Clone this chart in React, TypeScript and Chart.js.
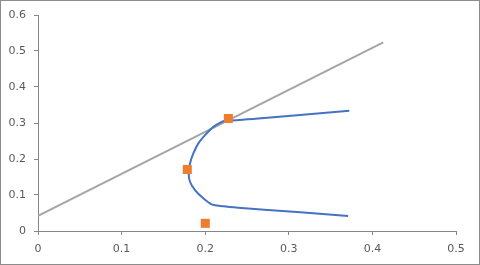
import React, { useEffect, useRef } from "react";
import { Chart, registerables } from "chart.js";

Chart.register(...registerables);

const frontierX = [0.3724, 0.31, 0.26, 0.2237, 0.2197, 0.2097, 0.1998, 0.1918, 0.1858, 0.1818, 0.1802, 0.1818, 0.1878, 0.1977, 0.2077, 0.2217, 0.2396, 0.31, 0.371];
const frontierY = [0.3337, 0.3215, 0.3115, 0.3055, 0.3032, 0.2893, 0.2663, 0.2433, 0.2155, 0.1878, 0.162, 0.1368, 0.1137, 0.0907, 0.074, 0.0685, 0.0646, 0.0525, 0.0416];
const lineX = [0, 0.413];
const lineY = [0.042, 0.524];
const assetX = [0.2277, 0.1786, 0.2001];
const assetY = [0.3126, 0.171, 0.0213];
const xTicks = [0, 0.1, 0.2, 0.3, 0.4, 0.5];
const yTicks = [0, 0.1, 0.2, 0.3, 0.4, 0.5, 0.6];

const toPts = (xs: number[], ys: number[]) => xs.map((x, i) => ({ x, y: ys[i] }));

const borderPlugin = {
  id: "outerBorder",
  afterDraw(chart: any) {
    const ctx = chart.ctx;
    ctx.save();
    ctx.strokeStyle = "#8c8c8c";
    ctx.lineWidth = 1;
    ctx.strokeRect(0.5, 0.5, chart.width - 1, chart.height - 1);
    ctx.restore();
  },
};

export default function App() {
  const ref = useRef<HTMLCanvasElement>(null);
  useEffect(() => {
    if (!ref.current) return;
    const chart = new Chart(ref.current, {
      type: "scatter",
      data: {
        datasets: [
          {
            data: toPts(lineX, lineY),
            showLine: true,
            borderColor: "#A5A5A5",
            borderWidth: 2,
            pointRadius: 0,
            order: 3,
          },
          {
            data: toPts(frontierX, frontierY),
            showLine: true,
            borderColor: "#4472C4",
            borderWidth: 2,
            pointRadius: 0,
            tension: 0.2,
            order: 2,
          },
          {
            data: toPts(assetX, assetY),
            showLine: false,
            backgroundColor: "#ED7D31",
            borderColor: "#ED7D31",
            borderWidth: 0,
            pointStyle: "rect",
            pointRadius: 6.4,
            order: 1,
          },
        ],
      },
      options: {
        animation: false,
        responsive: false,
        layout: { padding: { left: 0, right: 24, top: 15, bottom: 0 } },
        plugins: { legend: { display: false }, tooltip: { enabled: false } },
        scales: {
          x: {
            type: "linear",
            min: 0,
            max: 0.5,
            afterBuildTicks: (s: any) => {
              s.ticks = xTicks.map((v) => ({ value: v }));
            },
            afterFit: (s: any) => {
              s.height = 34;
            },
            ticks: {
              color: "#595959",
              font: { family: "DejaVu Sans", size: 11 },
              padding: 8,
              maxRotation: 0,
              callback: (v: any) => String(v),
            },
            grid: { drawOnChartArea: false, tickLength: 4, color: "#868686" },
            border: { color: "#868686", width: 1 },
          },
          y: {
            type: "linear",
            min: 0,
            max: 0.6,
            afterBuildTicks: (s: any) => {
              s.ticks = yTicks.map((v) => ({ value: v }));
            },
            afterFit: (s: any) => {
              s.width = 38;
            },
            ticks: {
              color: "#595959",
              font: { family: "DejaVu Sans", size: 11 },
              padding: 8,
              callback: (v: any) => String(v),
            },
            grid: { drawOnChartArea: false, tickLength: 4, color: "#868686" },
            border: { color: "#868686", width: 1 },
          },
        },
      },
      plugins: [borderPlugin],
    });
    return () => chart.destroy();
  }, []);
  return (
    <div style={{ position: "fixed", left: 0, top: 0, width: 480, height: 265, background: "#fff" }}>
      <canvas ref={ref} width={480} height={265} style={{ display: "block" }} />
    </div>
  );
}
